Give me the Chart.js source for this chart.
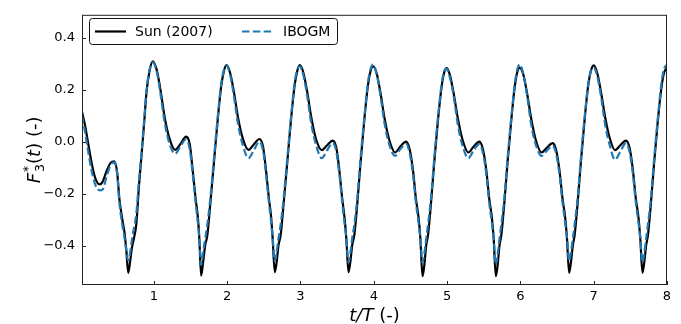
<!DOCTYPE html>
<html>
<head>
<meta charset="utf-8">
<script src="https://cdn.jsdelivr.net/npm/chart.js@4/dist/chart.umd.min.js"></script>
<style>
  html, body { margin: 0; padding: 0; background: #fff; }
  #wrap { width: 681px; height: 324px; }
</style>
</head>
<body>
<div id="wrap"><canvas id="force" width="681" height="324"></canvas></div>
<script>
// t/T sample times, shared by both series (one row per period)
const tValues = [
  0.02, 0.06, 0.10, 0.15, 0.20, 0.26, 0.30, 0.36, 0.41, 0.46, 0.50, 0.53, 0.57, 0.60, 0.625, 0.65, 0.675, 0.70, 0.73, 0.76, 0.80, 0.83, 0.87, 0.90, 0.94,
  0.985, 1.04, 1.09, 1.15, 1.21, 1.29, 1.36, 1.44, 1.49, 1.53, 1.57, 1.60, 1.62, 1.645, 1.67, 1.70, 1.73, 1.77, 1.82, 1.87, 1.92, 1.955,
  1.99, 2.04, 2.09, 2.15, 2.21, 2.29, 2.36, 2.44, 2.49, 2.53, 2.57, 2.60, 2.62, 2.65, 2.675, 2.70, 2.73, 2.77, 2.82, 2.87, 2.92, 2.955,
  2.99, 3.04, 3.09, 3.15, 3.21, 3.29, 3.36, 3.44, 3.49, 3.53, 3.57, 3.60, 3.625, 3.655, 3.68, 3.705, 3.735, 3.775, 3.82, 3.87, 3.92, 3.955,
  3.99, 4.04, 4.09, 4.15, 4.21, 4.29, 4.36, 4.44, 4.49, 4.535, 4.575, 4.61, 4.635, 4.665, 4.69, 4.715, 4.74, 4.78, 4.825, 4.875, 4.925, 4.96,
  4.995, 5.04, 5.09, 5.15, 5.21, 5.29, 5.36, 5.44, 5.49, 5.535, 5.575, 5.61, 5.635, 5.665, 5.69, 5.715, 5.74, 5.78, 5.825, 5.875, 5.925, 5.96,
  5.99, 6.04, 6.09, 6.15, 6.21, 6.29, 6.36, 6.44, 6.49, 6.535, 6.575, 6.61, 6.635, 6.665, 6.69, 6.715, 6.74, 6.78, 6.825, 6.875, 6.925, 6.96,
  7.0, 7.05, 7.10, 7.16, 7.22, 7.29, 7.36, 7.44, 7.49, 7.535, 7.575, 7.61, 7.635, 7.665, 7.69, 7.715, 7.74, 7.78, 7.825, 7.875, 7.925, 7.96,
  8.0
];

// Sun (2007) reference
const sunF3 = [
  0.115, 0.065, 0.0, -0.08, -0.14, -0.165, -0.155, -0.11, -0.082, -0.076, -0.12, -0.22, -0.30, -0.35, -0.42, -0.505, -0.465, -0.41, -0.37, -0.32, -0.16, -0.06, 0.08, 0.19, 0.27,
  0.309, 0.275, 0.2, 0.09, 0.015, -0.032, -0.01, 0.019, -0.01, -0.11, -0.22, -0.29, -0.37, -0.516, -0.47, -0.40, -0.36, -0.24, -0.08, 0.08, 0.215, 0.27,
  0.294, 0.265, 0.195, 0.09, 0.015, -0.032, -0.012, 0.010, -0.02, -0.11, -0.22, -0.29, -0.37, -0.503, -0.465, -0.40, -0.36, -0.24, -0.08, 0.08, 0.215, 0.27,
  0.294, 0.265, 0.195, 0.09, 0.012, -0.033, -0.015, 0.004, -0.025, -0.11, -0.22, -0.29, -0.37, -0.503, -0.465, -0.40, -0.36, -0.24, -0.08, 0.08, 0.215, 0.27,
  0.29, 0.262, 0.19, 0.085, 0.008, -0.042, -0.02, 0.0, -0.03, -0.11, -0.22, -0.29, -0.37, -0.518, -0.475, -0.40, -0.36, -0.24, -0.08, 0.08, 0.21, 0.265,
  0.283, 0.255, 0.185, 0.085, 0.008, -0.042, -0.02, 0.0, -0.03, -0.11, -0.22, -0.29, -0.37, -0.518, -0.475, -0.40, -0.36, -0.24, -0.08, 0.08, 0.215, 0.27,
  0.285, 0.258, 0.188, 0.085, 0.006, -0.042, -0.024, -0.006, -0.035, -0.115, -0.22, -0.29, -0.37, -0.505, -0.465, -0.40, -0.36, -0.24, -0.08, 0.08, 0.215, 0.27,
  0.293, 0.262, 0.19, 0.088, 0.012, -0.033, -0.015, 0.004, -0.025, -0.11, -0.22, -0.29, -0.37, -0.505, -0.465, -0.40, -0.36, -0.24, -0.08, 0.08, 0.21, 0.265,
  0.285
];

// IBOGM result
const ibogmF3 = [
  0.10, 0.04, -0.03, -0.11, -0.165, -0.188, -0.185, -0.13, -0.09, -0.08, -0.125, -0.235, -0.32, -0.37, -0.42, -0.457, -0.43, -0.38, -0.33, -0.28, -0.14, -0.05, 0.09, 0.195, 0.275,
  0.305, 0.27, 0.185, 0.07, -0.005, -0.047, -0.02, 0.009, -0.03, -0.125, -0.235, -0.31, -0.37, -0.475, -0.43, -0.375, -0.32, -0.22, -0.065, 0.09, 0.225, 0.275,
  0.292, 0.258, 0.18, 0.065, -0.01, -0.064, -0.035, 0.0, -0.035, -0.125, -0.235, -0.31, -0.37, -0.46, -0.425, -0.375, -0.32, -0.22, -0.065, 0.09, 0.225, 0.275,
  0.29, 0.255, 0.18, 0.065, -0.01, -0.064, -0.035, -0.005, -0.04, -0.125, -0.235, -0.31, -0.37, -0.465, -0.43, -0.375, -0.32, -0.22, -0.065, 0.09, 0.225, 0.278,
  0.296, 0.26, 0.18, 0.065, -0.01, -0.055, -0.03, -0.008, -0.045, -0.125, -0.235, -0.31, -0.37, -0.465, -0.43, -0.375, -0.32, -0.22, -0.065, 0.09, 0.22, 0.27,
  0.28, 0.245, 0.175, 0.06, -0.015, -0.064, -0.035, -0.01, -0.045, -0.125, -0.235, -0.31, -0.37, -0.475, -0.435, -0.375, -0.32, -0.22, -0.065, 0.09, 0.225, 0.28,
  0.297, 0.26, 0.18, 0.062, -0.012, -0.055, -0.035, -0.016, -0.05, -0.13, -0.235, -0.31, -0.37, -0.46, -0.425, -0.375, -0.32, -0.22, -0.065, 0.09, 0.22, 0.272,
  0.285, 0.25, 0.175, 0.06, -0.015, -0.07, -0.04, -0.006, -0.04, -0.125, -0.235, -0.31, -0.37, -0.465, -0.43, -0.375, -0.32, -0.22, -0.065, 0.09, 0.225, 0.28,
  0.295
];

const seriesNames = ["Sun (2007)", "IBOGM"];
const xTicks = [1, 2, 3, 4, 5, 6, 7, 8];
const yTicks = [-0.4, -0.2, 0.0, 0.2, 0.4];

const FONT = "'DejaVu Sans', 'Liberation Sans', sans-serif";

function toPoints(ys) {
  return tValues.map((t, i) => ({ x: t, y: ys[i] }));
}

function fmtTick(v) {
  return v.toFixed(1).replace("-", "\u2212");
}

// border, inward ticks, legend and axis titles (matplotlib look)
const decor = {
  id: "decor",
  afterDraw(chart) {
    const ctx = chart.ctx;
    const a = chart.chartArea;
    const xs = chart.scales.x;
    const ys = chart.scales.y;
    ctx.save();

    ctx.strokeStyle = "#222";
    ctx.lineWidth = 1;
    ctx.strokeRect(a.left + 0.5, a.top + 0.5, a.right - a.left - 1, a.bottom - a.top - 1);

    ctx.beginPath();
    for (const v of xTicks) {
      const px = Math.round(xs.getPixelForValue(v)) + 0.5;
      ctx.moveTo(px, a.bottom);
      ctx.lineTo(px, a.bottom - 4);
    }
    for (const v of yTicks) {
      const py = Math.round(ys.getPixelForValue(v)) + 0.5;
      ctx.moveTo(a.left, py);
      ctx.lineTo(a.left + 4, py);
    }
    ctx.stroke();

    // legend
    const lx = 89.5, ly = 18.5, lw = 248, lh = 26;
    ctx.beginPath();
    ctx.roundRect(lx, ly, lw, lh, 3);
    ctx.fillStyle = "rgba(255,255,255,0.9)";
    ctx.fill();
    ctx.strokeStyle = "#111";
    ctx.stroke();
    const ds = chart.data.datasets;
    const items = [{ x0: 95, tx: 135 }, { x0: 242, tx: 283 }];
    ctx.font = "14px " + FONT;
    ctx.textBaseline = "middle";
    ctx.textAlign = "left";
    items.forEach((it, i) => {
      ctx.beginPath();
      ctx.setLineDash(ds[i].borderDash || []);
      ctx.strokeStyle = ds[i].borderColor;
      ctx.lineWidth = 2.2;
      ctx.moveTo(it.x0, 31.5);
      ctx.lineTo(it.x0 + 31, 31.5);
      ctx.stroke();
      ctx.setLineDash([]);
      ctx.fillStyle = "#000";
      ctx.fillText(ds[i].label, it.tx, 32);
    });

    // x title: t/T (-)
    ctx.fillStyle = "#000";
    ctx.textBaseline = "alphabetic";
    const xParts = [["t/T", "italic 18px "], [" (-)", "18px "]];
    drawParts(ctx, xParts, (a.left + a.right) / 2, 321);

    // y title: F*_3(t) (-)
    ctx.save();
    ctx.translate(40, (a.top + a.bottom) / 2);
    ctx.rotate(-Math.PI / 2);
    const big = "18px " + FONT, ital = "italic 18px " + FONT, small = "12.5px " + FONT;
    ctx.font = ital; const wF = ctx.measureText("F").width;
    ctx.font = small; const wS = Math.max(ctx.measureText("*").width, ctx.measureText("3").width);
    ctx.font = big; const wO = ctx.measureText("(").width;
    ctx.font = ital; const wT = ctx.measureText("t").width;
    ctx.font = big; const wR = ctx.measureText(") (-)").width;
    const total = wF + wS + 1 + wO + wT + wR;
    let x = -total / 2;
    ctx.font = ital; ctx.fillText("F", x, 0); x += wF + 1;
    ctx.font = small; ctx.fillText("*", x, -8); ctx.fillText("3", x, 4); x += wS;
    ctx.font = big; ctx.fillText("(", x, 0); x += wO;
    ctx.font = ital; ctx.fillText("t", x, 0); x += wT;
    ctx.font = big; ctx.fillText(") (-)", x, 0);
    ctx.restore();

    ctx.restore();
  }
};

function drawParts(ctx, parts, cx, y) {
  let total = 0;
  for (const p of parts) { ctx.font = p[1] + FONT; total += ctx.measureText(p[0]).width; }
  let x = cx - total / 2;
  ctx.textAlign = "left";
  for (const p of parts) {
    ctx.font = p[1] + FONT;
    ctx.fillText(p[0], x, y);
    x += ctx.measureText(p[0]).width;
  }
}

const chart = new Chart(document.querySelector("#force"), {
  type: "line",
  data: {
    datasets: [
      {
        label: seriesNames[0],
        data: toPoints(sunF3),
        borderColor: "#000000",
        borderWidth: 2.2,
        pointRadius: 0,
        cubicInterpolationMode: "monotone",
        fill: false,
        order: 1,
      },
      {
        label: seriesNames[1],
        data: toPoints(ibogmF3),
        borderColor: "#1f77b4",
        borderWidth: 2.2,
        borderDash: [7.5, 3.3],
        pointRadius: 0,
        cubicInterpolationMode: "monotone",
        fill: false,
        order: 0,
      },
    ],
  },
  options: {
    responsive: false,
    devicePixelRatio: 1,
    animation: false,
    layout: { padding: { left: 0, right: 14, top: 12, bottom: 0 } },
    plugins: {
      legend: { display: false },
      tooltip: { enabled: false },
    },
    scales: {
      x: {
        type: "linear",
        min: 0.02,
        max: 8,
        grid: { display: false, drawTicks: false, tickLength: 0 },
        border: { display: false },
        afterBuildTicks: (axis) => { axis.ticks = xTicks.map((v) => ({ value: v })); },
        afterFit: (axis) => { axis.height = 39; },
        ticks: {
          color: "#000",
          padding: 4,
          maxRotation: 0,
          font: { family: FONT, size: 13 },
          callback: (v) => String(v),
        },
      },
      y: {
        type: "linear",
        min: -0.552,
        max: 0.488,
        grid: { display: false, drawTicks: false, tickLength: 0 },
        border: { display: false },
        afterBuildTicks: (axis) => { axis.ticks = yTicks.map((v) => ({ value: v })); },
        afterFit: (axis) => { axis.width = 82; },
        ticks: {
          color: "#000",
          padding: 7,
          font: { family: FONT, size: 13 },
          callback: (v) => fmtTick(v),
        },
      },
    },
  },
  plugins: [decor],
});
</script>
</body>
</html>
